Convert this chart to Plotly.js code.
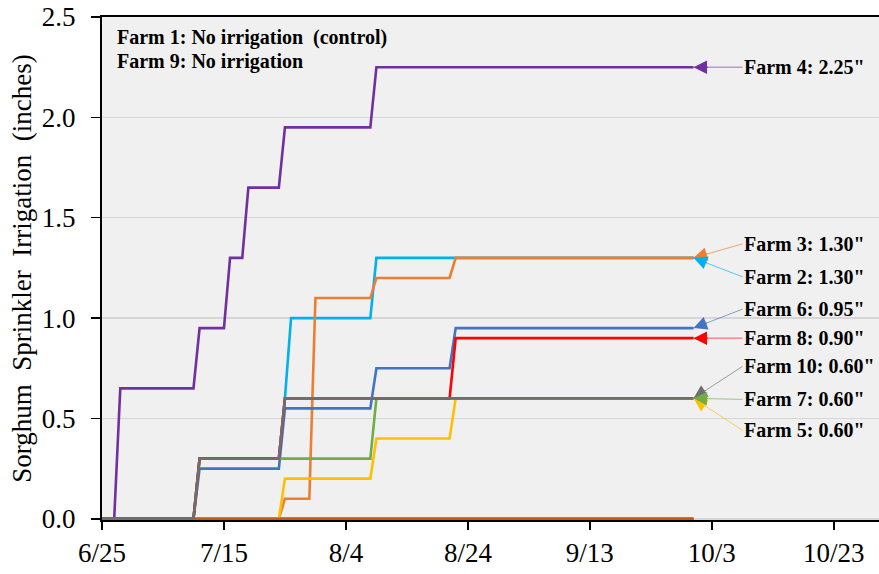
<!DOCTYPE html>
<html>
<head>
<meta charset="utf-8">
<script src="https://cdn.plot.ly/plotly-3.0.1.min.js"></script>
<style>
  html, body { margin: 0; padding: 0; background: #ffffff; }
  #chart { width: 879px; height: 574px; }
</style>
</head>
<body>
<div id="chart"></div>
<script>
// ---- Data (vertices of cumulative irrigation step lines, inches) ----
const farm1Dates  = ['2019-06-25', '2019-09-30'];
const farm1Vals   = [0, 0];
const farm2Dates  = ['2019-06-25', '2019-07-10', '2019-07-11', '2019-07-24', '2019-07-25', '2019-07-26', '2019-08-08', '2019-08-09', '2019-09-30'];
const farm2Vals   = [0, 0, 0.30, 0.30, 0.60, 1.00, 1.00, 1.30, 1.30];
const farm3Dates  = ['2019-06-25', '2019-07-24', '2019-07-25', '2019-07-29', '2019-07-30', '2019-08-08', '2019-08-09', '2019-08-21', '2019-08-22', '2019-09-30'];
const farm3Vals   = [0, 0, 0.10, 0.10, 1.10, 1.10, 1.20, 1.20, 1.30, 1.30];
const farm4Dates  = ['2019-06-25', '2019-06-27', '2019-06-28', '2019-07-10', '2019-07-11', '2019-07-15', '2019-07-16', '2019-07-18', '2019-07-19', '2019-07-24', '2019-07-25', '2019-08-08', '2019-08-09', '2019-09-30'];
const farm4Vals   = [0, 0, 0.65, 0.65, 0.95, 0.95, 1.30, 1.30, 1.65, 1.65, 1.95, 1.95, 2.25, 2.25];
const farm5Dates  = ['2019-06-25', '2019-07-24', '2019-07-25', '2019-08-08', '2019-08-09', '2019-08-21', '2019-08-22', '2019-09-30'];
const farm5Vals   = [0, 0, 0.20, 0.20, 0.40, 0.40, 0.60, 0.60];
const farm6Dates  = ['2019-06-25', '2019-07-10', '2019-07-11', '2019-07-24', '2019-07-25', '2019-08-08', '2019-08-09', '2019-08-21', '2019-08-22', '2019-09-30'];
const farm6Vals   = [0, 0, 0.25, 0.25, 0.55, 0.55, 0.75, 0.75, 0.95, 0.95];
const farm7Dates  = ['2019-06-25', '2019-07-10', '2019-07-11', '2019-08-08', '2019-08-09', '2019-09-30'];
const farm7Vals   = [0, 0, 0.30, 0.30, 0.60, 0.60];
const farm8Dates  = ['2019-06-25', '2019-07-10', '2019-07-11', '2019-07-24', '2019-07-25', '2019-08-21', '2019-08-22', '2019-09-30'];
const farm8Vals   = [0, 0, 0.30, 0.30, 0.60, 0.60, 0.90, 0.90];
const farm9Dates  = ['2019-06-25', '2019-09-30'];
const farm9Vals   = [0, 0];
const farm10Dates = ['2019-06-25', '2019-07-10', '2019-07-11', '2019-07-24', '2019-07-25', '2019-09-30'];
const farm10Vals  = [0, 0, 0.30, 0.30, 0.60, 0.60];

const xTickVals  = ['2019-06-25', '2019-07-15', '2019-08-04', '2019-08-24', '2019-09-13', '2019-10-03', '2019-10-23'];
const xTickText  = ['6/25', '7/15', '8/4', '8/24', '9/13', '10/3', '10/23'];
const yTickVals  = [0, 0.5, 1.0, 1.5, 2.0, 2.5];
const yTickText  = ['0.0', '0.5', '1.0', '1.5', '2.0', '2.5'];

const endDate = '2019-09-30';
const labelTexts = ['Farm 4: 2.25"', 'Farm 3: 1.30"', 'Farm 2: 1.30"', 'Farm 6: 0.95"', 'Farm 8: 0.90"', 'Farm 10: 0.60"', 'Farm 5: 0.60"', 'Farm 7: 0.60"'];
const labelVals  = [2.25, 1.30, 1.30, 0.95, 0.90, 0.60, 0.60, 0.60];
const noteLines  = ['Farm 1: No irrigation \u00a0(control)', 'Farm 9: No irrigation'];
const yTitle     = 'Sorghum \u00a0Sprinkler \u00a0Irrigation \u00a0(inches)';

// ---- Styles ----
const C = {
  f1: '#843C0C', f2: '#00B0F0', f3: '#ED7D31', f4: '#7030A0', f5: '#FFC000',
  f6: '#4472C4', f7: '#70AD47', f8: '#FF0000', f9: '#C55A11', f10: '#6E6E6E'
};
const LW = 2.6;
function tr(x, y, color) {
  return { type: 'scatter', mode: 'lines', x: x, y: y, line: { color: color, width: LW }, hoverinfo: 'skip', showlegend: false };
}
const traces = [
  tr(farm1Dates, farm1Vals, C.f1),
  tr(farm2Dates, farm2Vals, C.f2),
  tr(farm3Dates, farm3Vals, C.f3),
  tr(farm4Dates, farm4Vals, C.f4),
  tr(farm5Dates, farm5Vals, C.f5),
  tr(farm6Dates, farm6Vals, C.f6),
  tr(farm7Dates, farm7Vals, C.f7),
  tr(farm8Dates, farm8Vals, C.f8),
  tr(farm9Dates, farm9Vals, C.f9),
  tr(farm10Dates, farm10Vals, C.f10)
];

const FONT = 'Liberation Serif, Times New Roman, serif';
function hexA(hex, a) {
  const n = parseInt(hex.slice(1), 16);
  return 'rgba(' + ((n >> 16) & 255) + ',' + ((n >> 8) & 255) + ',' + (n & 255) + ',' + a + ')';
}
// label index -> color & tail offset (pixels)
const labelColors = [C.f4, C.f3, C.f2, C.f6, C.f8, C.f10, C.f5, C.f7];
const labelAx = [49, 49, 49, 49, 49, 49, 49, 49];
const labelAy = [0, -14, 19, -19, 0, -32, 32, 1];

const annotations = [];
labelTexts.forEach((t, i) => {
  annotations.push({
    x: endDate, y: labelVals[i], xref: 'x', yref: 'y',
    ax: labelAx[i], ay: labelAy[i], axref: 'pixel', ayref: 'pixel',
    text: '<b>' + t + '</b>', showarrow: true, arrowhead: 0, arrowwidth: 1,
    arrowcolor: hexA(labelColors[i], 0.65), xanchor: 'left', yanchor: 'middle',
    font: { family: FONT, size: 20, color: '#000000' }, borderpad: 0
  });
});
labelTexts.forEach((t, i) => {
  const len = Math.hypot(labelAx[i], labelAy[i]);
  const k = 15 / len;
  annotations.push({
    x: endDate, y: labelVals[i], xref: 'x', yref: 'y',
    ax: labelAx[i] * k, ay: labelAy[i] * k, axref: 'pixel', ayref: 'pixel',
    text: ' ', showarrow: true, arrowhead: 2, arrowsize: 2.7, arrowwidth: 1,
    arrowcolor: labelColors[i], font: { size: 1 }, borderpad: 0
  });
});
noteLines.forEach((t, i) => {
  annotations.push({
    x: 0.0167, y: [0.9592, 0.912][i], xref: 'paper', yref: 'paper',
    text: '<b>' + t + '</b>', showarrow: false, xanchor: 'left', yanchor: 'middle',
    font: { family: FONT, size: 20, color: '#000000' }
  });
});
annotations.push({
  x: -0.104, y: 0.5, xref: 'paper', yref: 'paper', text: yTitle, textangle: -90,
  showarrow: false, xanchor: 'center', yanchor: 'middle',
  font: { family: FONT, size: 27, color: '#000000' }
});

const layout = {
  width: 879, height: 574,
  margin: { l: 102, r: 0, t: 17, b: 54, pad: 0 },
  paper_bgcolor: '#ffffff', plot_bgcolor: '#F0F0F0',
  showlegend: false,
  font: { family: FONT, size: 27, color: '#000000' },
  xaxis: {
    type: 'date', range: ['2019-06-25', '2019-10-30 10:00'],
    tickmode: 'array', tickvals: xTickVals, ticktext: xTickText,
    ticks: 'outside', ticklen: 8, tickwidth: 1.5, tickcolor: '#000000',
    showline: true, linecolor: '#000000', linewidth: 2, mirror: true,
    showgrid: false, zeroline: false, layer: 'below traces',
    tickfont: { family: FONT, size: 27, color: '#000000' }
  },
  yaxis: {
    range: [-0.006, 2.5], tickmode: 'array', tickvals: yTickVals, ticktext: yTickText,
    ticks: 'outside', ticklen: 9, tickwidth: 1.5, tickcolor: '#000000',
    showline: true, linecolor: '#000000', linewidth: 2,
    showgrid: true, gridcolor: '#D6D6D6', gridwidth: 1.5, zeroline: false,
    layer: 'below traces', ticklabelstandoff: 10,
    tickfont: { family: FONT, size: 27, color: '#000000' }
  },
  annotations: annotations
};

Plotly.newPlot('chart', traces, layout, { staticPlot: true, displayModeBar: false });
</script>
</body>
</html>
